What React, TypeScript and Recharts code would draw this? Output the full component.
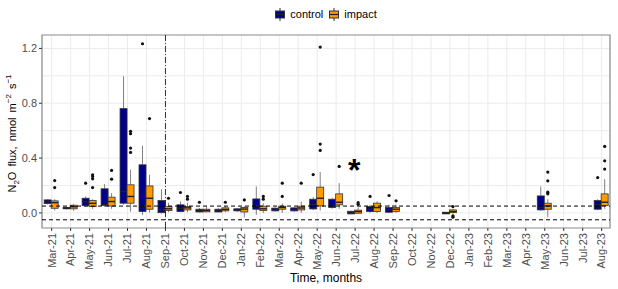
import React from "react";
import {
  ComposedChart,
  Bar,
  XAxis,
  YAxis,
  CartesianGrid,
  ReferenceLine,
  ReferenceArea,
  ReferenceDot,
  Legend,
} from "recharts";

const FONT = "'Liberation Sans', Arial, sans-serif";
const CONTROL = "#00008B";
const IMPACT = "#FF9900";

const months = [
  "Mar-21", "Apr-21", "May-21", "Jun-21", "Jul-21", "Aug-21", "Sep-21", "Oct-21", "Nov-21", "Dec-21",
  "Jan-22", "Feb-22", "Mar-22", "Apr-22", "May-22", "Jun-22", "Jul-22", "Aug-22", "Sep-22", "Oct-22",
  "Nov-22", "Dec-22", "Jan-23", "Feb-23", "Mar-23", "Apr-23", "May-23", "Jun-23", "Jul-23", "Aug-23",
];

const N = null;
const controlLow = [0.06, 0.025, 0.045, 0.045, 0.06, -0.015, -0.005, 0.005, 0.005, 0.005, 0.01, -0.015, 0.01, 0.01, 0.02, 0.03, -0.01, 0.0, 0.0, N, N, -0.008, N, N, N, N, 0.015, N, N, 0.02];
const controlQ1 = [0.068, 0.03, 0.053, 0.055, 0.071, 0.01, 0.002, 0.01, 0.007, 0.007, 0.015, 0.027, 0.015, 0.015, 0.029, 0.039, -0.007, 0.01, 0.005, N, N, -0.007, N, N, N, N, 0.022, N, N, 0.027];
const controlMed = [0.08, 0.035, 0.08, 0.062, 0.156, 0.051, 0.022, 0.034, 0.017, 0.015, 0.022, 0.051, 0.025, 0.026, 0.063, 0.051, 0.003, 0.027, 0.025, N, N, 0.0, N, N, N, N, 0.039, N, N, 0.059];
const controlQ3 = [0.095, 0.04, 0.107, 0.176, 0.761, 0.351, 0.09, 0.059, 0.027, 0.027, 0.03, 0.102, 0.035, 0.037, 0.1, 0.1, 0.012, 0.046, 0.039, N, N, 0.005, N, N, N, N, 0.124, N, N, 0.09];
const controlHigh = [0.1, 0.045, 0.12, 0.21, 0.997, 0.49, 0.173, 0.083, 0.035, 0.035, 0.035, 0.193, 0.04, 0.04, 0.115, 0.11, 0.015, 0.06, 0.06, N, N, 0.006, N, N, N, N, 0.193, N, N, 0.1];
const controlOut: number[][] = [[], [], [0.217], [], [], [1.234], [], [0.149], [0.078], [], [], [], [], [], [0.28], [], [], [0.12], [0.127], [], [], [], [], [], [], [], [], [], [], [0.258]];

const impactLow = [0.017, 0.015, 0.03, 0.03, 0.01, 0.002, 0.005, 0.005, 0.005, 0.005, -0.032, 0.0, 0.0, 0.0, 0.017, 0.03, -0.005, 0.0, 0.0, N, N, -0.005, N, N, N, N, -0.032, N, N, 0.03];
const impactQ1 = [0.034, 0.03, 0.046, 0.05, 0.071, 0.027, 0.017, 0.022, 0.008, 0.015, 0.007, 0.017, 0.027, 0.022, 0.051, 0.059, -0.002, 0.01, 0.01, N, N, 0.002, N, N, N, N, 0.027, N, N, 0.053];
const impactMed = [0.075, 0.045, 0.07, 0.083, 0.12, 0.107, 0.03, 0.037, 0.018, 0.025, 0.028, 0.03, 0.04, 0.036, 0.107, 0.078, 0.01, 0.039, 0.027, N, N, 0.01, N, N, N, N, 0.051, N, N, 0.078];
const impactQ3 = [0.088, 0.056, 0.09, 0.115, 0.205, 0.197, 0.046, 0.046, 0.027, 0.037, 0.039, 0.049, 0.049, 0.049, 0.188, 0.139, 0.02, 0.071, 0.039, N, N, 0.022, N, N, N, N, 0.071, N, N, 0.139];
const impactHigh = [0.1, 0.065, 0.1, 0.144, 0.315, 0.278, 0.075, 0.075, 0.05, 0.05, 0.05, 0.07, 0.07, 0.083, 0.298, 0.217, 0.04, 0.085, 0.06, N, N, 0.03, N, N, N, N, 0.1, N, N, 0.246];
const impactOut: number[][] = [[0.185, 0.236], [], [0.185, 0.249, 0.266, 0.278], [0.246, 0.31], [0.441, 0.473, 0.578, 0.595], [0.688], [0.107], [0.1, 0.12], [], [0.078], [0.095], [0.1, 0.12], [0.12, 0.217], [0.217], [0.456, 0.502, 1.21], [0.339], [0.063, 0.075], [], [0.088], [], [], [-0.031, -0.022, 0.046], [], [], [], [], [0.139, 0.151, 0.234, 0.298], [], [], [0.32, 0.38, 0.485]];

const yTicks = [0, 0.4, 0.8, 1.2];
const yGrid = [0, 0.2, 0.4, 0.6, 0.8, 1.0, 1.2];
const thresholds = [0.05, -0.05];
const breakIndex = 6; // Sep-21
const starIndex = 16; // Jul-22
const starValue = 0.351;

type Stats = { lo: number; q1: number; med: number; q3: number; hi: number; out: number[] };

function stat(lo: (number | null)[], q1: (number | null)[], med: (number | null)[], q3: (number | null)[], hi: (number | null)[], out: number[][], i: number): Stats | null {
  if (lo[i] == null) return null;
  return { lo: lo[i] as number, q1: q1[i] as number, med: med[i] as number, q3: q3[i] as number, hi: hi[i] as number, out: out[i] };
}

function range(s: Stats | null): [number, number] | null {
  if (!s) return null;
  return [Math.min(s.lo, ...s.out), Math.max(s.hi, ...s.out)];
}

const data = months.map((m, i) => {
  const c = stat(controlLow, controlQ1, controlMed, controlQ3, controlHigh, controlOut, i);
  const im = stat(impactLow, impactQ1, impactMed, impactQ3, impactHigh, impactOut, i);
  return { idx: i, month: m, c, i: im, cRange: range(c), iRange: range(im) };
});

function makeBoxShape(key: "c" | "i", fill: string) {
  return (props: any) => {
    const { x, y, width, height, payload } = props;
    const s: Stats | null = payload ? payload[key] : null;
    const r: [number, number] | null = payload ? payload[key + "Range"] : null;
    if (!s || !r || y == null || height == null || isNaN(y) || isNaN(height)) return <g />;
    const top = Math.min(y, y + height);
    const bot = Math.max(y, y + height);
    const py = (v: number) => bot - ((v - r[0]) / (r[1] - r[0])) * (bot - top);
    const cx = x + width / 2;
    return (
      <g>
        <line x1={cx} x2={cx} y1={py(s.hi)} y2={py(s.q3)} stroke="#808080" strokeWidth={1} />
        <line x1={cx} x2={cx} y1={py(s.q1)} y2={py(s.lo)} stroke="#808080" strokeWidth={1} />
        <rect x={x} y={py(s.q3)} width={width} height={Math.max(py(s.q1) - py(s.q3), 0.8)} fill={fill} stroke="#333" strokeWidth={0.8} />
        <line x1={x} x2={x + width} y1={py(s.med)} y2={py(s.med)} stroke="#222" strokeWidth={1.4} />
        {s.out.map((o, k) => (
          <circle key={k} cx={cx} cy={py(o)} r={1.6} fill="#111" />
        ))}
      </g>
    );
  };
}

const XTick = (props: any) => {
  const { x, y, payload } = props;
  return (
    <text
      x={x}
      y={y}
      transform={`rotate(-90, ${x}, ${y})`}
      textAnchor="end"
      dy="0.35em"
      fontSize={11}
      fontFamily={FONT}
      fill="#4d4d4d"
    >
      {months[payload.value]}
    </text>
  );
};

const YTitle = (props: any) => {
  const vb = props.viewBox || { x: 4, y: 35, width: 38, height: 193 };
  const cx = vb.x + 12;
  const cy = vb.y + vb.height / 2 + 2;
  return (
    <text
      x={cx}
      y={cy}
      transform={`rotate(-90, ${cx}, ${cy})`}
      textAnchor="middle"
      fontSize={11}
      fontFamily={FONT}
      fill="#000"
      style={{ wordSpacing: "2px" }}
    >
      <tspan>N</tspan>
      <tspan fontSize={8} dy={3}>2</tspan>
      <tspan dy={-3}>O flux, nmol m</tspan>
      <tspan fontSize={8} dy={-5}>−2</tspan>
      <tspan dy={5}> s</tspan>
      <tspan fontSize={8} dy={-5}>−1</tspan>
    </text>
  );
};

const XTitle = (props: any) => {
  const vb = props.viewBox || { x: 42, y: 228, width: 568, height: 61 };
  return (
    <text x={vb.x + vb.width / 2} y={vb.y + 54} textAnchor="middle" fontSize={12} fontFamily={FONT} fill="#000">
      Time, months
    </text>
  );
};

const Key = ({ fill }: { fill: string }) => (
  <svg width={10} height={13} style={{ display: "block" }}>
    <line x1={5} x2={5} y1={0} y2={3} stroke="#333" strokeWidth={1} />
    <line x1={5} x2={5} y1={10} y2={13} stroke="#333" strokeWidth={1} />
    <rect x={0.5} y={3} width={9} height={7} fill={fill} stroke="#333" strokeWidth={1} />
    <line x1={0.5} x2={9.5} y1={6.5} y2={6.5} stroke="#222" strokeWidth={1.2} />
  </svg>
);

const LegendContent = () => (
  <div
    style={{
      display: "flex",
      justifyContent: "center",
      alignItems: "center",
      height: 20,
      fontFamily: FONT,
      fontSize: 11,
      color: "#000",
    }}
  >
    <Key fill={CONTROL} />
    <span style={{ marginLeft: 5, marginRight: 6 }}>control</span>
    <Key fill={IMPACT} />
    <span style={{ marginLeft: 5 }}>impact</span>
  </div>
);

const StarShape = (props: any) => {
  const { cx, cy } = props;
  return (
    <text x={cx - 1} y={cy + 16} textAnchor="middle" fontSize={32} fontWeight="bold" fontFamily={FONT} fill="#000">
      *
    </text>
  );
};

const X_DOMAIN: [number, number] = [-0.51, 29.44];
const Y_DOMAIN: [number, number] = [-0.11, 1.298];

export default function App() {
  return (
    <div style={{ position: "absolute", left: 0, top: 0, width: 618, height: 289, background: "#fff" }}>
      <ComposedChart
        width={618}
        height={289}
        data={data}
        margin={{ top: 15, right: 8, bottom: 0, left: 4 }}
        barGap={0}
      >
        <Legend
          verticalAlign="top"
          align="center"
          height={20}
          wrapperStyle={{ top: 4, left: 42, width: 568 }}
          content={<LegendContent />}
        />
        <CartesianGrid stroke="#ebebeb" strokeWidth={1} horizontalValues={yGrid} />
        <XAxis
          dataKey="idx"
          type="number"
          scale="linear"
          domain={X_DOMAIN}
          allowDataOverflow
          ticks={months.map((_, i) => i)}
          interval={0}
          tick={<XTick />}
          tickSize={3}
          tickMargin={2}
          tickLine={{ stroke: "#333" }}
          axisLine={false}
          height={61}
          label={<XTitle />}
        />
        <YAxis
          type="number"
          domain={Y_DOMAIN}
          allowDataOverflow
          ticks={yTicks}
          tickFormatter={(v: number) => v.toFixed(1)}
          tick={{ fontSize: 11, fontFamily: FONT, fill: "#4d4d4d" }}
          tickSize={3}
          tickMargin={2}
          tickLine={{ stroke: "#333" }}
          axisLine={false}
          width={38}
          label={<YTitle />}
        />
        <Bar dataKey="cRange" name="control" barSize={7} fill={CONTROL} shape={makeBoxShape("c", CONTROL)} isAnimationActive={false} />
        <Bar dataKey="iRange" name="impact" barSize={7} fill={IMPACT} shape={makeBoxShape("i", IMPACT)} isAnimationActive={false} />
        {thresholds.map((t) => (
          <ReferenceLine key={t} y={t} stroke="#000" strokeWidth={1} strokeDasharray="4 3" />
        ))}
        <ReferenceLine x={breakIndex} stroke="#000" strokeWidth={0.8} strokeDasharray="6 2 1 2" />
        <ReferenceDot x={starIndex} y={starValue} r={0} shape={<StarShape />} />
        <ReferenceArea
          x1={X_DOMAIN[0]}
          x2={X_DOMAIN[1]}
          y1={Y_DOMAIN[0]}
          y2={Y_DOMAIN[1]}
          fill="none"
          stroke="#8c8c8c"
          strokeWidth={1.2}
          ifOverflow="visible"
        />
      </ComposedChart>
    </div>
  );
}
